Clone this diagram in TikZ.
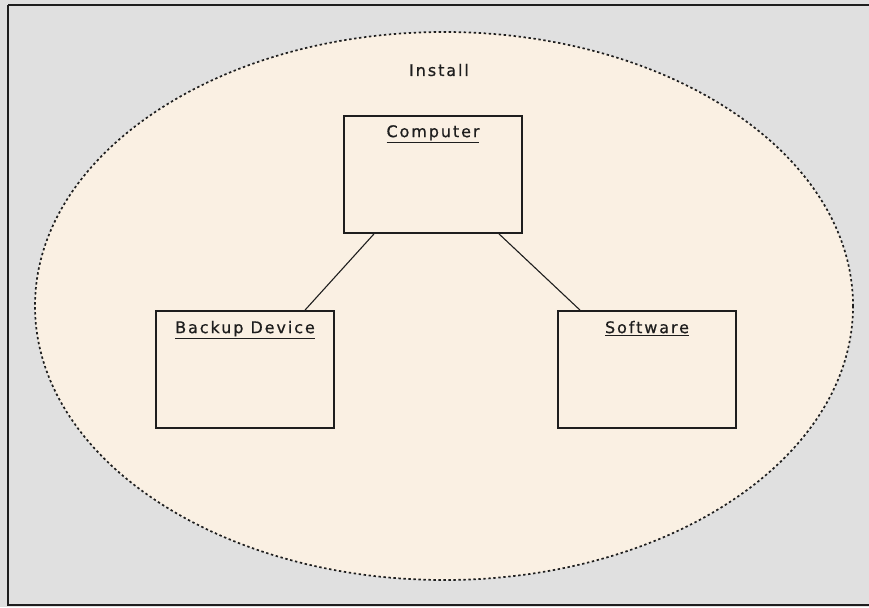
\documentclass[tikz,border=0pt]{standalone}
\usepackage{fontspec}
\newfontfamily\lblfont[LetterSpace=12,FakeBold=0.6]{DejaVu Sans}
\definecolor{bggray}{HTML}{E0E0E0}
\definecolor{cream}{HTML}{FAF0E3}
\definecolor{inkc}{HTML}{1E1E1E}
\tikzset{
  frameline/.style={draw=inkc, line width=2pt},
  region/.style={draw=inkc, fill=cream, line width=1.7pt, dash pattern=on 2.4pt off 2.6pt},
  objbox/.style={draw=inkc, line width=1.8pt, rectangle, minimum width=178pt, minimum height=117pt, inner sep=0pt},
  lbl/.style={font=\lblfont\fontsize{16pt}{18pt}\selectfont, text=inkc, inner sep=0pt},
  link/.style={draw=inkc, line width=1.1pt}
}
\begin{document}
\begin{tikzpicture}[x=1pt,y=-1pt]
\useasboundingbox (0,0) rectangle (869,607);
\fill[bggray] (0,0) rectangle (869,607);
\draw[frameline] (8,5.5) -- (8,604.5) -- (872,604.5);
\draw[frameline] (8,5.5) -- (872,5.5);
\draw[region] (444,306) ellipse [x radius=409, y radius=274];
\node[lbl] (install) at (439,70) {Install};
\node[objbox] (comp) at (433,174.5) {};
\node[objbox] (backup) at (245,369.5) {};
\node[objbox] (soft) at (647,369.5) {};
\node[lbl, anchor=base] (compl) at ([yshift=-22]comp.north) {\underline{Computer}};
\node[lbl, anchor=base] (backupl) at ([yshift=-23]backup.north) {\underline{Backup Device}};
\node[lbl, anchor=base] (softl) at ([yshift=-23]soft.north) {\underline{Software}};
\draw[link] ([xshift=-59]comp.south) -- ([xshift=60]backup.north);
\draw[link] ([xshift=66]comp.south) -- ([xshift=-67]soft.north);
\end{tikzpicture}
\end{document}
